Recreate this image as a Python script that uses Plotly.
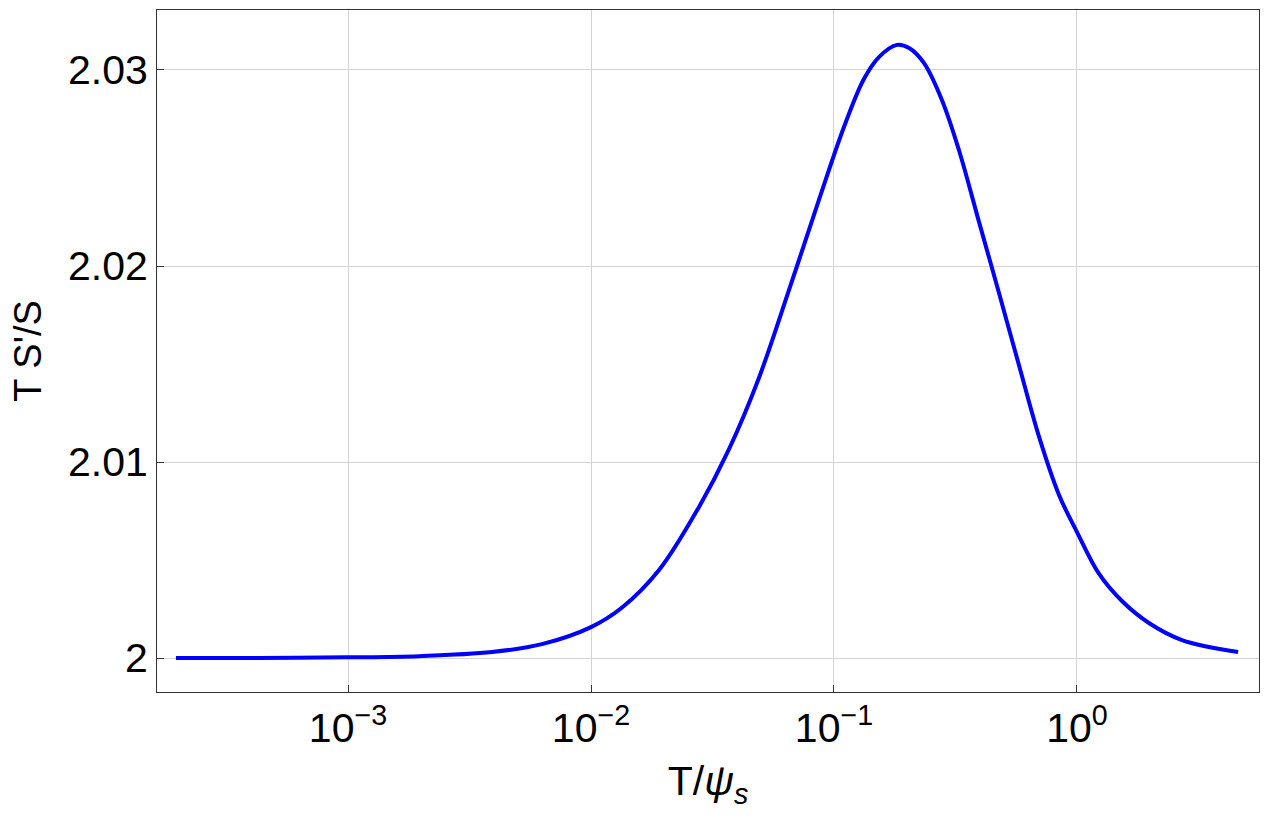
import plotly.graph_objects as go

# log10(T/psi_s) sample positions and the read-off values of T S'/S
log_t = [-3.708, -3.366, -3.004, -2.708, -2.407, -2.202, -2.000, -1.872, -1.720, -1.556,
         -1.432, -1.309, -1.185, -1.062, -0.959, -0.877, -0.815, -0.741, -0.691, -0.630,
         -0.556, -0.486, -0.403, -0.321, -0.239, -0.156, -0.074, 0.000, 0.091, 0.185,
         0.296, 0.432, 0.663]
ts_over_s = [2.00000, 2.00001, 2.00004, 2.00010, 2.00031, 2.00071, 2.00158, 2.00258, 2.00449, 2.00770,
             2.01066, 2.01429, 2.01878, 2.02337, 2.02709, 2.02954, 2.03066, 2.03128, 2.03112, 2.03036,
             2.02847, 2.02592, 2.02224, 2.01862, 2.01495, 2.01128, 2.00832, 2.00643, 2.00429, 2.00291,
             2.00179, 2.00092, 2.00031]
t_vals = [10 ** v for v in log_t]

x_tickvals = [1e-3, 1e-2, 1e-1, 1e0]
x_ticktext = ["10<sup>\u22123</sup>", "10<sup>\u22122</sup>", "10<sup>\u22121</sup>", "10<sup>0</sup>"]
y_tickvals = [2.0, 2.01, 2.02, 2.03]
y_ticktext = ["2", "2.01", "2.02", "2.03"]

fig = go.Figure()
fig.add_trace(go.Scatter(x=t_vals, y=ts_over_s, mode="lines",
                         line=dict(color="#0000ff", width=4, shape="spline", smoothing=1.0),
                         showlegend=False))

font_family = "Liberation Sans, Arial, sans-serif"
fig.update_layout(
    width=1271, height=817,
    margin=dict(l=157, r=12, t=10, b=125),
    paper_bgcolor="white", plot_bgcolor="white",
    font=dict(family=font_family, color="black"),
)
fig.update_xaxes(
    type="log", range=[-3.786, 0.749],
    tickvals=x_tickvals, ticktext=x_ticktext,
    tickfont=dict(size=41),
    title=dict(text="T/<i>\u03c8<sub>s</sub></i>", font=dict(size=41), standoff=16),
    showgrid=True, gridcolor="#d4d4d4", gridwidth=1,
    showline=True, linecolor="#333333", linewidth=1, mirror=True,
    ticks="inside", ticklen=7, tickcolor="#333333", zeroline=False,
)
fig.update_yaxes(
    range=[1.99827, 2.03306],
    tickvals=y_tickvals, ticktext=y_ticktext,
    tickfont=dict(size=41),
    title=dict(text="T S'/S", font=dict(size=38), standoff=14),
    showgrid=True, gridcolor="#d4d4d4", gridwidth=1,
    showline=True, linecolor="#333333", linewidth=1, mirror=True,
    ticks="inside", ticklen=7, tickcolor="#333333", zeroline=False,
)

fig.write_html("out.html")
